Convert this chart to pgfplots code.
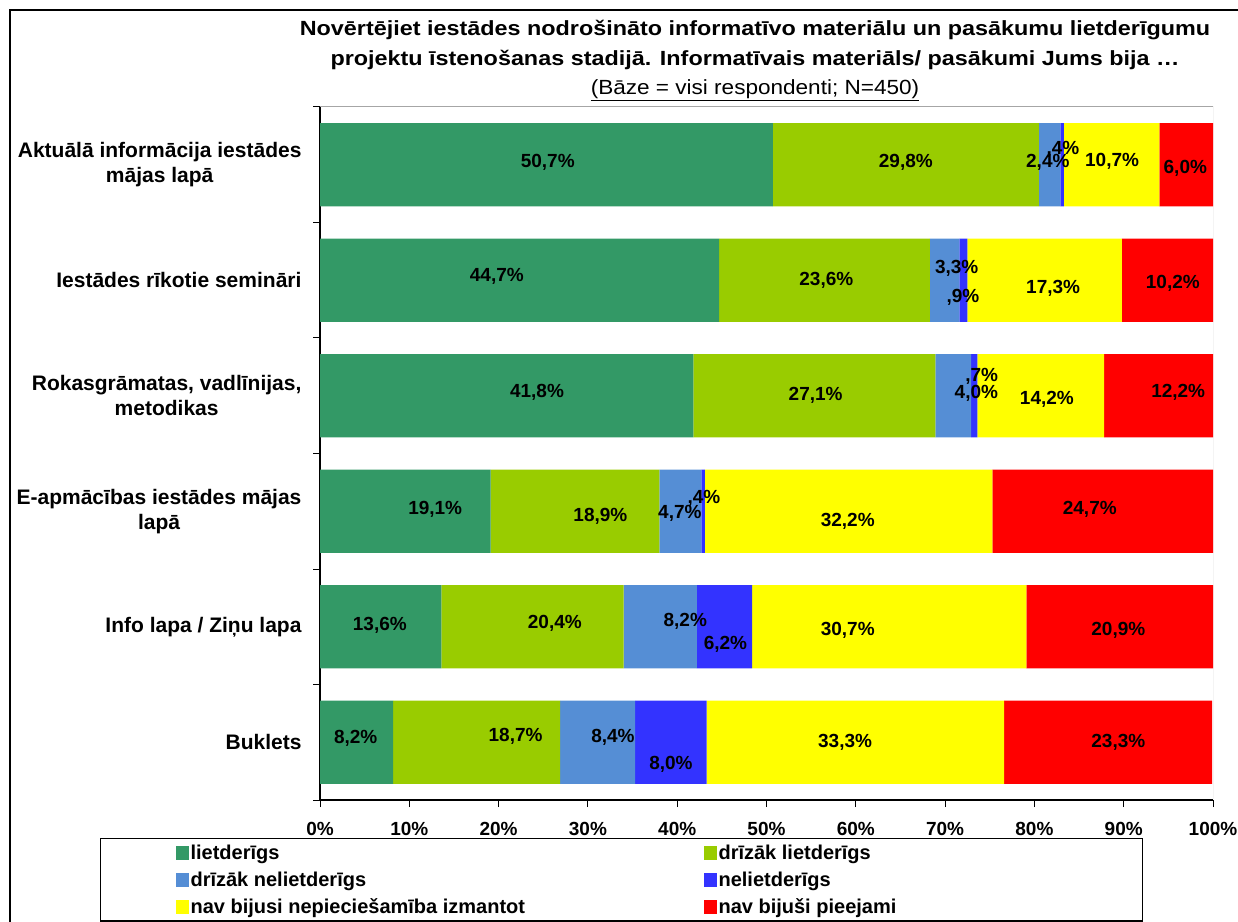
\documentclass[border=0pt]{standalone}
\usepackage{pgfplots}
\usepackage{pgfplotstable}
\usepackage{fontspec}
\setmainfont{Liberation Sans}
\pgfplotsset{compat=1.18}
\definecolor{cg}{RGB}{51,153,102}
\definecolor{cl}{RGB}{153,204,0}
\definecolor{cb}{RGB}{85,142,213}
\definecolor{cd}{RGB}{51,51,255}
\definecolor{cy}{RGB}{255,255,0}
\definecolor{cr}{RGB}{255,0,0}
\pgfplotstableread{
y a b c d e f
5 50.7 29.8 2.4 0.4 10.7 6.0
4 44.7 23.6 3.3 0.9 17.3 10.2
3 41.8 27.1 4.0 0.7 14.2 12.2
2 19.1 18.9 4.7 0.4 32.2 24.7
1 13.6 20.4 8.2 6.2 30.7 20.9
0 8.2 18.7 8.4 8.0 33.3 23.3
}\data
\pgfplotstableread{
x y lab
25.5 5.02 50,7
65.6 5.02 29,8
81.5 5.02 2,4
83.2 5.13 ,4
88.7 5.03 10,7
96.9 4.97 6,0
19.8 4.03 44,7
56.7 4.00 23,6
71.3 4.10 3,3
72.0 3.85 ,9
82.1 3.93 17,3
95.5 3.97 10,2
24.3 3.03 41,8
55.5 3.00 27,1
74.1 3.17 ,7
73.5 3.02 4,0
81.4 2.97 14,2
96.1 3.03 12,2
12.9 2.02 19,1
31.4 1.96 18,9
40.3 1.98 4,7
43.0 2.11 ,4
59.1 1.91 32,2
86.2 2.02 24,7
6.7 1.01 13,6
26.3 1.03 20,4
40.9 1.05 8,2
45.4 0.85 6,2
59.1 0.97 30,7
89.4 0.97 20,9
4.0 0.03 8,2
21.9 0.05 18,7
32.8 0.04 8,4
39.3 -0.19 8,0
58.8 0.00 33,3
89.4 0.00 23,3
}\labels
\newcommand{\lf}{\bfseries\fontsize{19}{22}\selectfont}
\newcommand{\legf}{\bfseries\fontsize{20}{23}\selectfont}
\begin{document}
\begin{tikzpicture}
\useasboundingbox (0pt,0pt) rectangle (1238pt,921pt);
\draw[line width=1.5pt] (10pt,-50pt) -- (10pt,911pt) -- (1300pt,911pt);
\node[font=\bfseries\fontsize{20.5}{23}\selectfont] at (755pt,891pt) {\scalebox{1.14}[1]{Novērtējiet iestādes nodrošināto informatīvo materiālu un pasākumu lietderīgumu}};
\node[font=\bfseries\fontsize{20.5}{23}\selectfont] at (755pt,861pt) {\scalebox{1.14}[1]{projektu īstenošanas stadijā. Informatīvais materiāls/ pasākumi Jums bija \dots}};
\node[font=\fontsize{20.5}{23}\selectfont] at (755pt,831pt) {\scalebox{1.1}[1]{\underline{(Bāze = visi respondenti; N=450)}}};
\begin{axis}[
  at={(320pt,121pt)}, anchor=south west,
  width=893pt, height=693pt, scale only axis,
  xbar stacked, bar width=0.72,
  xmin=0, xmax=100, ymin=-0.5, ymax=5.5,
  axis lines*=left, axis line style={-, line width=1.2pt},
  xtick={0,10,...,100},
  xticklabel={\pgfmathprintnumber{\tick}\%},
  /pgf/number format/assume math mode=true,
  xticklabel style={font=\lf, yshift=-12pt},
  ytick={-0.5,0.5,...,5.5}, yticklabels={},
  extra y ticks={0,1,2,3,4,5},
  extra y tick labels={{Buklets},{Info lapa / Ziņu lapa},{E-apmācības iestādes mājas\\lapā},{Rokasgrāmatas, vadlīnijas,\\metodikas},{Iestādes rīkotie semināri},{Aktuālā informācija iestādes\\mājas lapā}},
  extra y tick style={tick style={draw=none}, yticklabel style={align=center, font=\bfseries\fontsize{21}{25}\selectfont, xshift=-8pt}},
  tick align=outside, major tick length=7pt,
  tick style={black, line width=1pt},
  legend columns=2,
  legend style={at={(-0.2464,-0.0548)}, anchor=north west, draw=black, line width=1.2pt, inner xsep=75pt, inner ysep=4pt, font=\legf, row sep=7pt},
  legend image code/.code={\fill[#1] (-1pt,-7pt) rectangle (12pt,7pt);},
]
\addplot[fill=cg, draw=none] table[x=a, y=y] {\data};
\addlegendentry{\makebox[511pt][l]{lietderīgs}}
\addplot[fill=cl, draw=none] table[x=b, y=y] {\data};
\addlegendentry{\makebox[347pt][l]{drīzāk lietderīgs}}
\addplot[fill=cb, draw=none] table[x=c, y=y] {\data};
\addlegendentry{\makebox[511pt][l]{drīzāk nelietderīgs}}
\addplot[fill=cd, draw=none] table[x=d, y=y] {\data};
\addlegendentry{\makebox[347pt][l]{nelietderīgs}}
\addplot[fill=cy, draw=none] table[x=e, y=y] {\data};
\addlegendentry{\makebox[511pt][l]{nav bijusi nepieciešamība izmantot}}
\addplot[fill=cr, draw=none] table[x=f, y=y] {\data};
\addlegendentry{\makebox[347pt][l]{nav bijuši pieejami}}
\draw[gray!70, line width=1pt] (rel axis cs:0,1) -- (rel axis cs:1,1) -- (rel axis cs:1,0);
\end{axis}
\begin{axis}[
  at={(320pt,121pt)}, anchor=south west,
  width=893pt, height=693pt, scale only axis,
  xmin=0, xmax=100, ymin=-0.5, ymax=5.5,
  hide axis, clip=false,
]
\addplot[draw=none, mark=none, nodes near coords={\pgfplotspointmeta\%}, point meta=explicit symbolic,
  nodes near coords style={anchor=center, font=\bfseries\fontsize{19}{22}\selectfont, text=black}]
  table[x=x, y=y, meta=lab] {\labels};
\end{axis}
\end{tikzpicture}
\end{document}
